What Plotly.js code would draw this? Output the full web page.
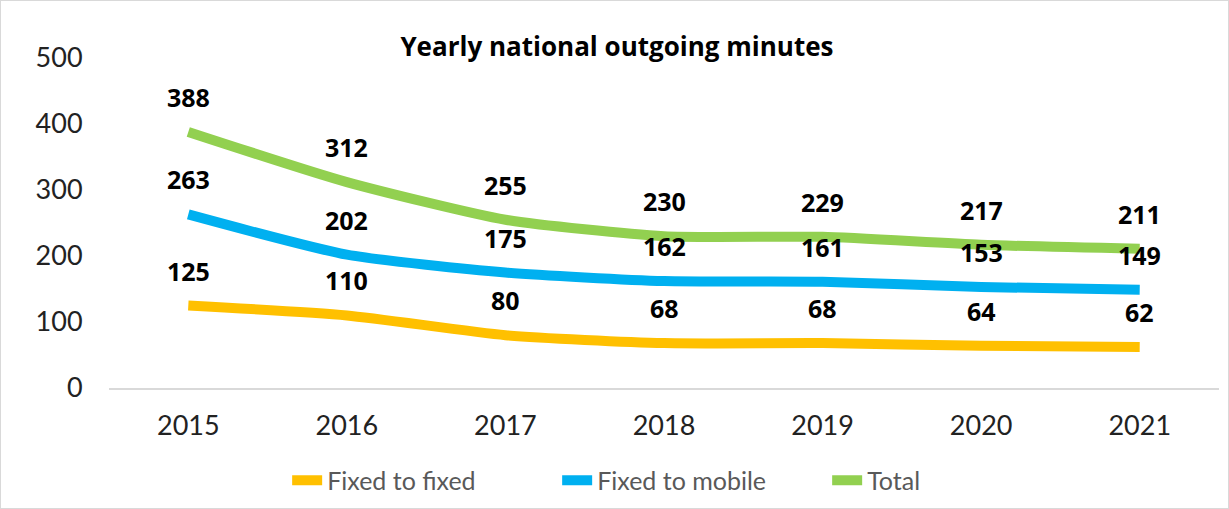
<!DOCTYPE html>
<html>
<head>
<meta charset="utf-8">
<script src="https://cdn.plot.ly/plotly-3.0.1.min.js"></script>
<style>
html,body{margin:0;padding:0;background:#fff;}
#chart{width:1227px;height:507px;border:1px solid #d9d9d9;}
</style>
</head>
<body>
<div id="chart"></div>
<script>
const years = ['2015','2016','2017','2018','2019','2020','2021'];
const fixedToFixed = [125,110,80,68,68,64,62];
const fixedToMobile = [263,202,175,162,161,153,149];
const total = [388,312,255,230,229,217,211];
const seriesNames = ['Fixed to fixed','Fixed to mobile','Total'];
const seriesColors = ['#FFC000','#00B0F0','#92D050'];
const seriesValues = [fixedToFixed, fixedToMobile, total];

const traces = seriesValues.map((vals, i) => ({
  x: years, y: vals, name: seriesNames[i], type: 'scatter', mode: 'lines',
  line: {color: seriesColors[i], width: 10, shape: 'spline', smoothing: 0.6},
  hoverinfo: 'x+y'
}));

const annotations = [];
for (let i = 0; i < seriesValues.length; i++) {
  const vals = seriesValues[i];
  for (let j = 0; j < vals.length; j++) {
    annotations.push({
      x: j, y: vals[j], xref: 'x', yref: 'y',
      text: '<b>' + vals[j] + '</b>', showarrow: false,
      yshift: 35, xanchor: 'center', yanchor: 'middle',
      font: {family: 'Open Sans, sans-serif', size: 25, color: '#000000'}
    });
  }
}

const layout = {
  width: 1227, height: 507,
  margin: {l: 108, r: 9, t: 57, b: 120, autoexpand: false},
  paper_bgcolor: '#fff', plot_bgcolor: '#fff',
  title: {text: '<b>Yearly national outgoing minutes</b>', x: 0.502, xanchor: 'center', y: 0.91, yanchor: 'middle',
    font: {family: 'Open Sans, sans-serif', size: 26, color: '#000'}},
  xaxis: {type: 'category', range: [-0.5, 6.5], showgrid: false, zeroline: false,
    showline: true, linecolor: '#d9d9d9', linewidth: 2,
    ticks: 'outside', ticklen: 13, tickcolor: 'rgba(0,0,0,0)',
    tickfont: {family: 'Lato, sans-serif', size: 27, color: '#222'}},
  yaxis: {range: [0, 500], dtick: 100, showgrid: false, zeroline: false, showline: false,
    ticks: 'outside', ticklen: 20, tickcolor: 'rgba(0,0,0,0)',
    tickfont: {family: 'Lato, sans-serif', size: 27, color: '#222'}},
  showlegend: true,
  legend: {orientation: 'h', x: 0.1605, xanchor: 'left', y: -0.28, yanchor: 'middle',
    font: {family: 'Lato, sans-serif', size: 25, color: '#595959'},
    entrywidth: 225, entrywidthmode: 'pixels',
    traceorder: 'normal'},
  annotations: annotations
};

Plotly.newPlot('chart', traces, layout, {displayModeBar: false});
</script>
</body>
</html>
